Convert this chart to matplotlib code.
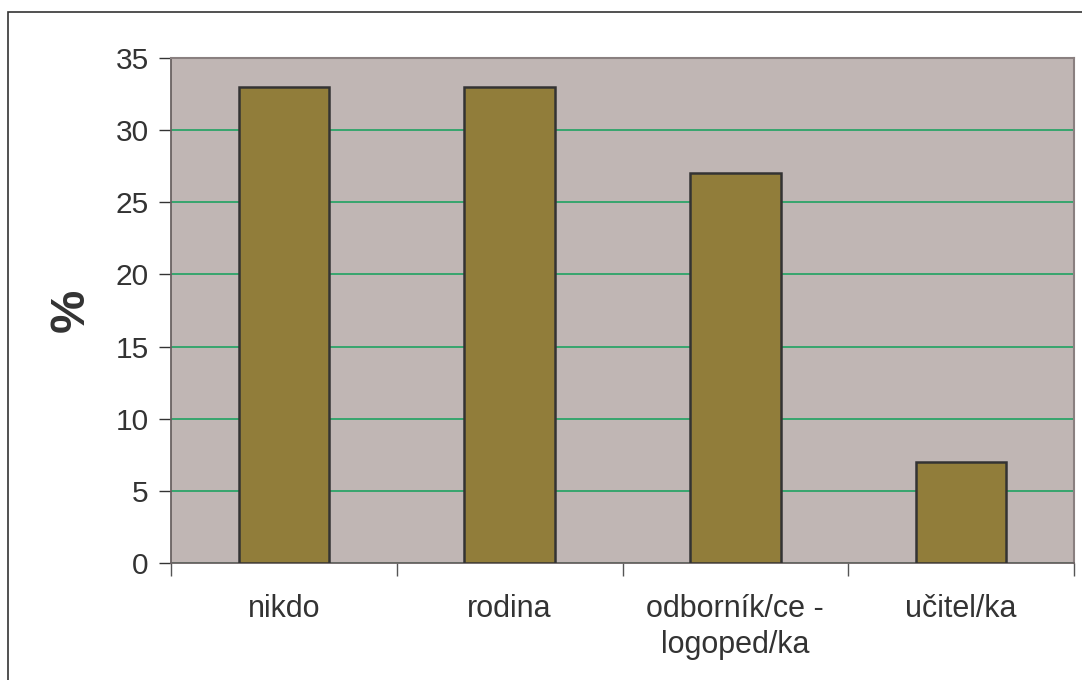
import matplotlib
matplotlib.use("Agg")
import matplotlib.pyplot as plt
from matplotlib.patches import Rectangle

plt.rcParams["font.family"] = ["Liberation Sans", "DejaVu Sans"]

categories = ["nikdo", "rodina", "odborník/ce -\nlogoped/ka", "učitel/ka"]
values = [33, 33, 27, 7]
yticks = [0, 5, 10, 15, 20, 25, 30, 35]

W, H = 1082, 680
fig = plt.figure(figsize=(W / 100, H / 100), dpi=100)
ax = fig.add_axes([171 / W, 1 - 563 / H, (1074 - 171) / W, (563 - 58) / H])

# outer chart border (Excel style)
fig.patches.append(Rectangle((8 / W, -0.1), 1.2, 1 - 12 / H + 0.1,
                             transform=fig.transFigure, fill=False,
                             edgecolor="#333333", linewidth=1.2))

ax.set_facecolor("#c0b6b4")
x = list(range(len(categories)))
ax.bar(x, values, width=0.40, color="#917d3a", edgecolor="#333333",
       linewidth=1.8, zorder=3)

ax.set_xlim(-0.5, len(categories) - 0.5)
ax.set_ylim(0, 35)
ax.set_yticks(yticks)
ax.yaxis.grid(True, color="#12a05a", linewidth=1.1, zorder=1)
ax.set_axisbelow(True)

# category labels centered, ticks on the category boundaries
ax.set_xticks(x)
ax.set_xticklabels(categories, fontsize=22, color="#333333", linespacing=1.3)
ax.tick_params(axis="x", length=0, pad=22)
ax.set_xticks([i - 0.5 for i in range(len(categories) + 1)], minor=True)
ax.tick_params(axis="x", which="minor", length=9, color="#555555", width=1)
ax.tick_params(axis="y", length=9, color="#333333", width=1,
               labelsize=21.5, labelcolor="#333333", pad=7)

for side in ["top", "right"]:
    ax.spines[side].set_color("#8a8080")
    ax.spines[side].set_linewidth(1.5)
ax.spines["left"].set_color("#6a6262")
ax.spines["bottom"].set_color("#6a6262")
ax.spines["left"].set_linewidth(1.3)
ax.spines["bottom"].set_linewidth(1.3)

ax.set_ylabel("%", fontsize=35, fontweight="bold", color="#333333", labelpad=16)

fig.savefig("out.png", dpi=100)
